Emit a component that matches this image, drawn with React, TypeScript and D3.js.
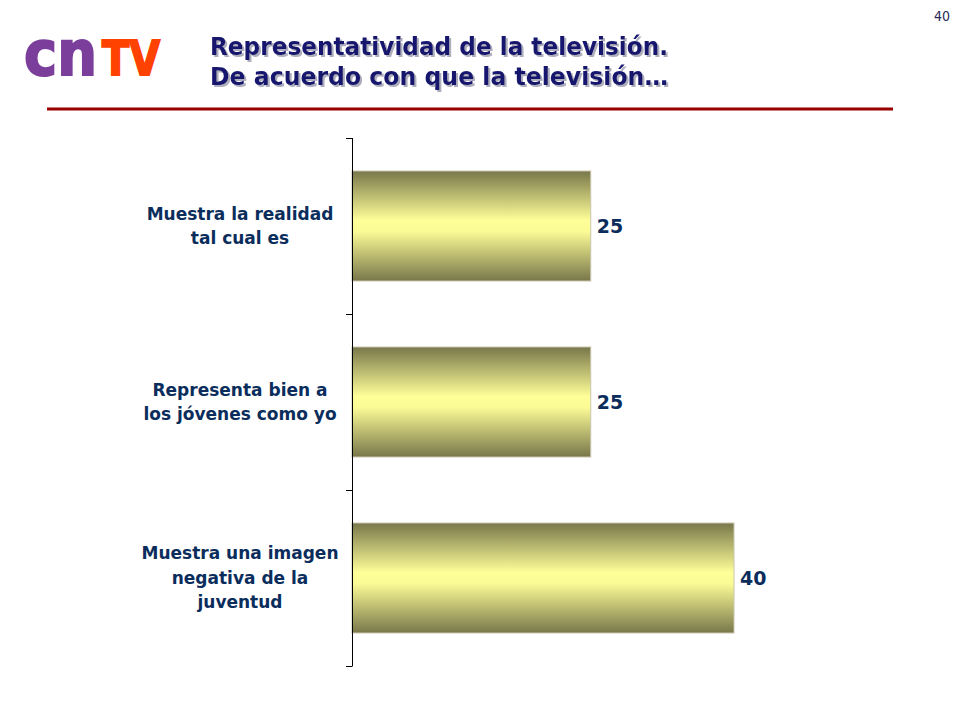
import { useEffect, useRef } from 'react';
import * as d3 from 'd3';

// chart data
const categories = [
  'Muestra la realidad\ntal cual es',
  'Representa bien a\nlos jóvenes como yo',
  'Muestra una imagen\nnegativa de la\njuventud',
];
const values = [25, 25, 40];

const titleLines = ['Representatividad de la televisión.', 'De acuerdo con que la televisión…'];
const pageNumber = '40';

const W = 960;
const H = 720;
const NAVY = '#0b2d5c';
const FONT = "Tahoma, 'DejaVu Sans Condensed', 'DejaVu Sans', sans-serif";
const FONT_WIDE = "Verdana, 'DejaVu Sans', sans-serif";

export default function App() {
  const svgRef = useRef<SVGSVGElement>(null);

  useEffect(() => {
    if (!svgRef.current) return;
    const svg = d3.select(svgRef.current);
    svg.selectAll('*').remove();

    const defs = svg.append('defs');
    const grad = defs
      .append('linearGradient')
      .attr('id', 'barGrad')
      .attr('x1', 0)
      .attr('y1', 0)
      .attr('x2', 0)
      .attr('y2', 1);
    grad.append('stop').attr('offset', '0%').attr('stop-color', '#78774a');
    grad.append('stop').attr('offset', '45%').attr('stop-color', '#ffff99');
    grad.append('stop').attr('offset', '55%').attr('stop-color', '#fbfb96');
    grad.append('stop').attr('offset', '100%').attr('stop-color', '#78774a');

    defs
      .append('filter')
      .attr('id', 'shadow')
      .attr('x', '-5%')
      .attr('y', '-20%')
      .attr('width', '110%')
      .attr('height', '140%')
      .append('feDropShadow')
      .attr('dx', 2)
      .attr('dy', 2)
      .attr('stdDeviation', 0.6)
      .attr('flood-color', '#9a9aae')
      .attr('flood-opacity', 0.8);

    // header: page number
    svg
      .append('text')
      .attr('x', 950)
      .attr('y', 21)
      .attr('text-anchor', 'end')
      .attr('font-family', FONT)
      .attr('font-size', 14)
      .attr('fill', '#2a2a5a')
      .text(pageNumber);

    // logo
    const logo = svg.append('g').attr('font-family', "'DejaVu Sans', sans-serif").attr('font-weight', 'bold');
    logo
      .append('text')
      .attr('x', 24)
      .attr('y', 75)
      .attr('font-size', 62)
      .attr('textLength', 73)
      .attr('lengthAdjust', 'spacingAndGlyphs')
      .attr('fill', '#7b3f9b')
      .attr('stroke', '#7b3f9b')
      .attr('stroke-width', 2)
      .text('cn');
    logo
      .append('text')
      .attr('x', 102)
      .attr('y', 75)
      .attr('font-size', 48)
      .attr('textLength', 58)
      .attr('lengthAdjust', 'spacingAndGlyphs')
      .attr('fill', '#ff4200')
      .attr('stroke', '#ff4200')
      .attr('stroke-width', 2)
      .text('TV');

    // title with drop shadow
    const title = svg
      .append('g')
      .attr('font-family', FONT)
      .attr('font-weight', 'bold')
      .attr('font-size', 25)
      .attr('filter', 'url(#shadow)');
    titleLines.forEach((line, i) => {
      title
        .append('text')
        .attr('x', 210)
        .attr('y', 55 + i * 30)
        .attr('textLength', 458)
        .attr('lengthAdjust', 'spacingAndGlyphs')
        .attr('fill', '#14146e')
        .text(line);
    });

    svg
      .append('rect')
      .attr('x', 47)
      .attr('y', 107.5)
      .attr('width', 846)
      .attr('height', 3)
      .attr('fill', '#990000');

    // scales
    const y = d3
      .scaleBand<number>()
      .domain(d3.range(categories.length))
      .range([138, 666])
      .paddingInner(0.375)
      .paddingOuter(0.1875);
    const x = d3.scaleLinear().domain([0, 40]).range([352, 734]);

    // bars
    svg
      .append('g')
      .selectAll('rect')
      .data(values)
      .join('rect')
      .attr('x', x(0))
      .attr('y', (_, i) => y(i)!)
      .attr('width', d => x(d) - x(0))
      .attr('height', y.bandwidth())
      .attr('fill', 'url(#barGrad)')
      .attr('stroke', '#cac6ae')
      .attr('stroke-width', 1);

    // value labels
    svg
      .append('g')
      .selectAll('text')
      .data(values)
      .join('text')
      .attr('x', d => x(d) + 6)
      .attr('y', (_, i) => y(i)! + y.bandwidth() / 2)
      .attr('dy', '0.36em')
      .attr('font-family', FONT_WIDE)
      .attr('font-weight', 'bold')
      .attr('font-size', 19)
      .attr('fill', NAVY)
      .text(d => d);

    // axis
    const step = y.step();
    const ticks = d3.range(categories.length + 1).map(i => 138 + i * step);
    const axis = svg.append('g').attr('stroke', '#000').attr('stroke-width', 1);
    axis
      .append('line')
      .attr('x1', 352.5)
      .attr('x2', 352.5)
      .attr('y1', 138)
      .attr('y2', 666);
    axis
      .selectAll('line.tick')
      .data(ticks)
      .join('line')
      .attr('class', 'tick')
      .attr('x1', 346)
      .attr('x2', 352.5)
      .attr('y1', d => Math.round(d) + 0.5)
      .attr('y2', d => Math.round(d) + 0.5);

    // category labels
    const lineH = 24.5;
    const labels = svg
      .append('g')
      .attr('font-family', FONT_WIDE)
      .attr('font-weight', 'bold')
      .attr('font-size', 17)
      .attr('fill', NAVY)
      .attr('text-anchor', 'middle');
    categories.forEach((cat, i) => {
      const lines = cat.split('\n');
      const cy = y(i)! + y.bandwidth() / 2;
      const t = labels.append('text');
      lines.forEach((ln, j) => {
        t.append('tspan')
          .attr('x', 240)
          .attr('y', cy + (j - (lines.length - 1) / 2) * lineH)
          .attr('dy', '0.35em')
          .text(ln);
      });
    });
  }, []);

  return (
    <svg
      ref={svgRef}
      width={W}
      height={H}
      viewBox={`0 0 ${W} ${H}`}
      style={{ position: 'absolute', left: 0, top: 0, background: '#fff', display: 'block' }}
    />
  );
}
